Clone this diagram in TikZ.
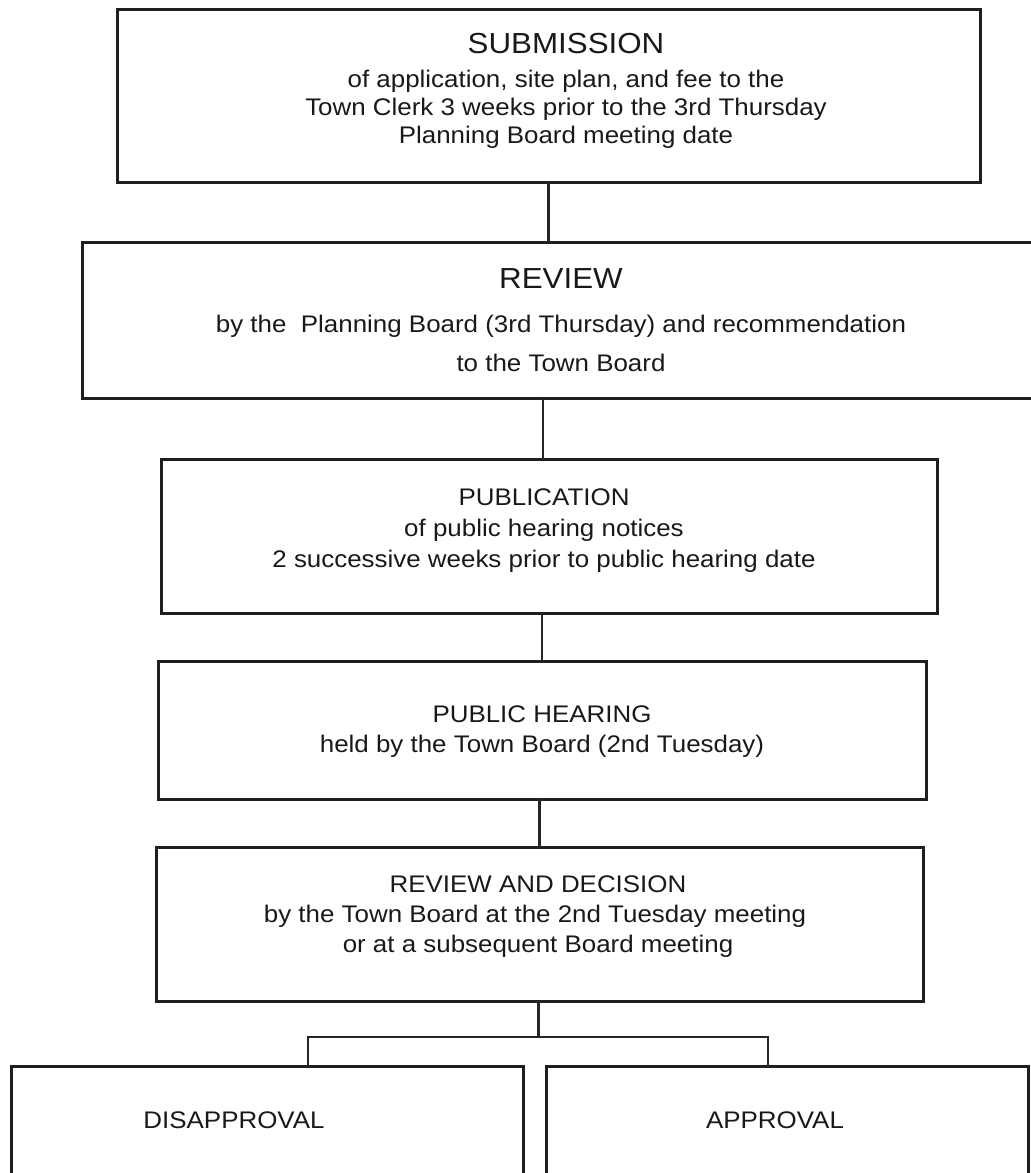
\documentclass[tikz,border=0pt]{standalone}
\usepackage{fontspec}
\setmainfont{Liberation Sans}[FakeStretch=1.08]
\begin{document}
\begin{tikzpicture}[x=1pt,y=-1pt,
  frame/.style={draw=black!88, line width=3pt, inner sep=0pt, outer sep=0pt, fill=none},
  conn/.style={draw=black!85, line width=2.4pt},
  ttl/.style={anchor=base, inner sep=0pt, text=black!90, font=\fontsize{29}{29}\selectfont},
  txt/.style={anchor=base, inner sep=0pt, text=black!90, font=\fontsize{24}{24}\selectfont}]
\useasboundingbox (0,0) rectangle (1031,1173);
\clip (0,0) rectangle (1031,1173);
% boxes
\node[frame, minimum width=863pt, minimum height=173pt] (b1) at (548.5,95.5) {};
\node[frame, minimum width=963pt, minimum height=156pt] (b2) at (563.5,320) {};
\node[frame, minimum width=776pt, minimum height=154pt] (b3) at (549,536) {};
\node[frame, minimum width=768pt, minimum height=138pt] (b4) at (542,730) {};
\node[frame, minimum width=767pt, minimum height=154pt] (b5) at (539.5,924) {};
\node[frame, minimum width=512pt, minimum height=140pt] (bl) at (267,1136) {};
\node[frame, minimum width=482pt, minimum height=140pt] (br) at (787,1136) {};
% texts
\node[ttl] (s1t) at (566,53) {SUBMISSION};
\node[txt] (s1a) at (566,87) {of application, site plan, and fee to the};
\node[txt] (s1b) at (566,115) {Town Clerk 3 weeks prior to the 3rd Thursday};
\node[txt] (s1c) at (566,143) {Planning Board meeting date};
\node[ttl] (s2t) at (561,288) {REVIEW};
\node[txt] (s2a) at (561,332) {by the \ Planning Board (3rd Thursday) and recommendation};
\node[txt] (s2b) at (561,371) {to the Town Board};
\node[txt] (s3t) at (544,505) {PUBLICATION};
\node[txt] (s3a) at (544,536) {of public hearing notices};
\node[txt] (s3b) at (544,567) {2 successive weeks prior to public hearing date};
\node[txt] (s4t) at (542,722) {PUBLIC HEARING};
\node[txt] (s4a) at (542,752) {held by the Town Board (2nd Tuesday)};
\node[txt] (s5t) at (538,892) {REVIEW AND DECISION};
\node[txt] (s5a) at (535,922) {by the Town Board at the 2nd Tuesday meeting};
\node[txt] (s5b) at (538,952) {or at a subsequent Board meeting};
\node[txt] (sl) at (234,1128) {DISAPPROVAL};
\node[txt] (sr) at (775,1128) {APPROVAL};
% connectors
\coordinate (jl) at (308,1037);
\coordinate (jr) at (768,1037);
\draw[conn] (b1.south) -- (b1.south |- b2.north);
\draw[conn] ([xshift=-6pt]b3.north |- b2.south) -- ([xshift=-6pt]b3.north);
\draw[conn] (b4.north |- b3.south) -- (b4.north);
\draw[conn] (b5.north |- b4.south) -- (b5.north);
\draw[conn] ([xshift=-1pt]b5.south) -- ([xshift=-1pt]b5.south |- jl);
\draw[conn] (jl |- bl.north) -- (jl) -- (jr) -- (jr |- br.north);
\end{tikzpicture}
\end{document}
